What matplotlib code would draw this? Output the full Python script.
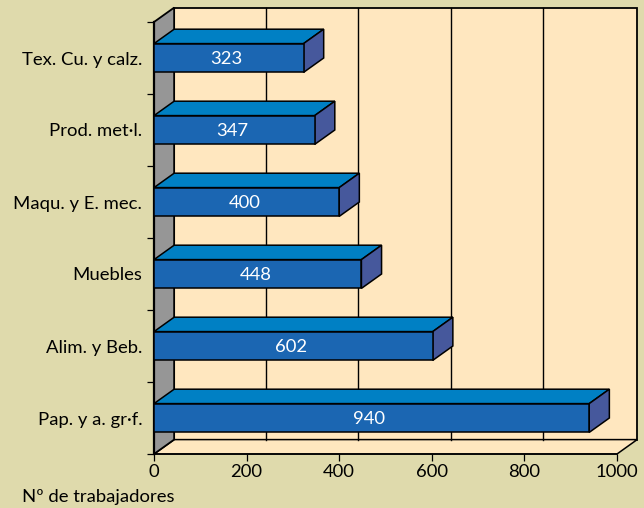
"""Trabajadores por sector - 3D style horizontal bars."""
import matplotlib
matplotlib.use('Agg')
import matplotlib.pyplot as plt
from matplotlib.patches import Polygon
import numpy as np

plt.rcParams.update({
    'font.family': ['Lato', 'DejaVu Sans'],
    'font.size': 13.3,
    'axes.linewidth': 1.1,
})

# bottom to top, same as the y axis
sectors = ['Pap. y a. gr·f.', 'Alim. y Beb.', 'Muebles', 'Maqu. y E. mec.',
           'Prod. met·l.', 'Tex. Cu. y calz.']
workers = [940, 602, 448, 400, 347, 323]
x_ticks = [0, 200, 400, 600, 800, 1000]

BG = '#DFDAAC'
WALL = '#FFE7BF'
GREY = '#969696'
FRONT = '#1B66B2'
TOP = '#0080C4'
SIDE = '#46589C'

# depth of the fake 3D, in data units
dx = 43.5
dy = 0.2
h = 0.4

fig = plt.figure(figsize=(6.44, 5.08), dpi=100, facecolor=BG)
ax = fig.add_axes([154 / 644, 1 - 454 / 508, 463 / 644, 432 / 508])
ax.set_facecolor('none')
ax.set_xlim(0, 1000)
ax.set_ylim(-0.5, 5.5)
ax.spines['top'].set_visible(False)
ax.spines['right'].set_visible(False)
ax.spines['left'].set_linewidth(1.6)
ax.spines['left'].set_zorder(3.5)

y0, y1 = ax.get_ylim()
x1 = ax.get_xlim()[1]


def poly(pts, fc, z, lw=1.1):
    ax.add_patch(Polygon(pts, closed=True, facecolor=fc, edgecolor='black',
                         linewidth=lw, zorder=z, clip_on=False))


# back wall, floor, left wall
poly([(dx, y0 + dy), (x1 + dx, y0 + dy), (x1 + dx, y1 + dy), (dx, y1 + dy)], WALL, 1, lw=1.3)
poly([(0, y0), (x1, y0), (x1 + dx, y0 + dy), (dx, y0 + dy)], WALL, 1)
poly([(0, y0), (dx, y0 + dy), (dx, y1 + dy), (0, y1)], GREY, 1.5, lw=1.3)

for t in x_ticks[1:-1]:
    ax.plot([t + dx - 2.5, t + dx - 2.5], [y0 + dy, y1 + dy], color='black', lw=1.0,
            zorder=1.2, clip_on=False)

y = np.arange(len(sectors))
bars = ax.barh(y, workers, height=h, color=FRONT, edgecolor='black',
               linewidth=1.1, zorder=4, clip_on=False)

for bar, val in zip(bars, workers):
    b = bar.get_y()
    t = b + bar.get_height()
    poly([(0, t), (val, t), (val + dx, t + dy), (dx, t + dy)], TOP, 3)
    poly([(val, b), (val + dx, b + dy), (val + dx, t + dy), (val, t)], SIDE, 3)
    ax.text(val / 2 - 5, b + bar.get_height() / 2 - 0.01, str(val), color='white',
            ha='center', va='center', fontsize=13.3, zorder=5)

ax.set_xticks(x_ticks)
ax.set_yticks(np.arange(-0.5, 6))
ax.set_yticklabels([])
ax.set_yticks(y, sectors, minor=True)
ax.tick_params(axis='y', which='minor', length=0, pad=8.5)
ax.tick_params(axis='both', which='major', length=5, width=0.9)
ax.tick_params(axis='x', pad=2.5)

fig.text(22 / 644, 1 - 497 / 508, 'Nº de trabajadores', ha='left', va='center', fontsize=13.3)

fig.savefig('out.png', dpi=100, facecolor=BG)
